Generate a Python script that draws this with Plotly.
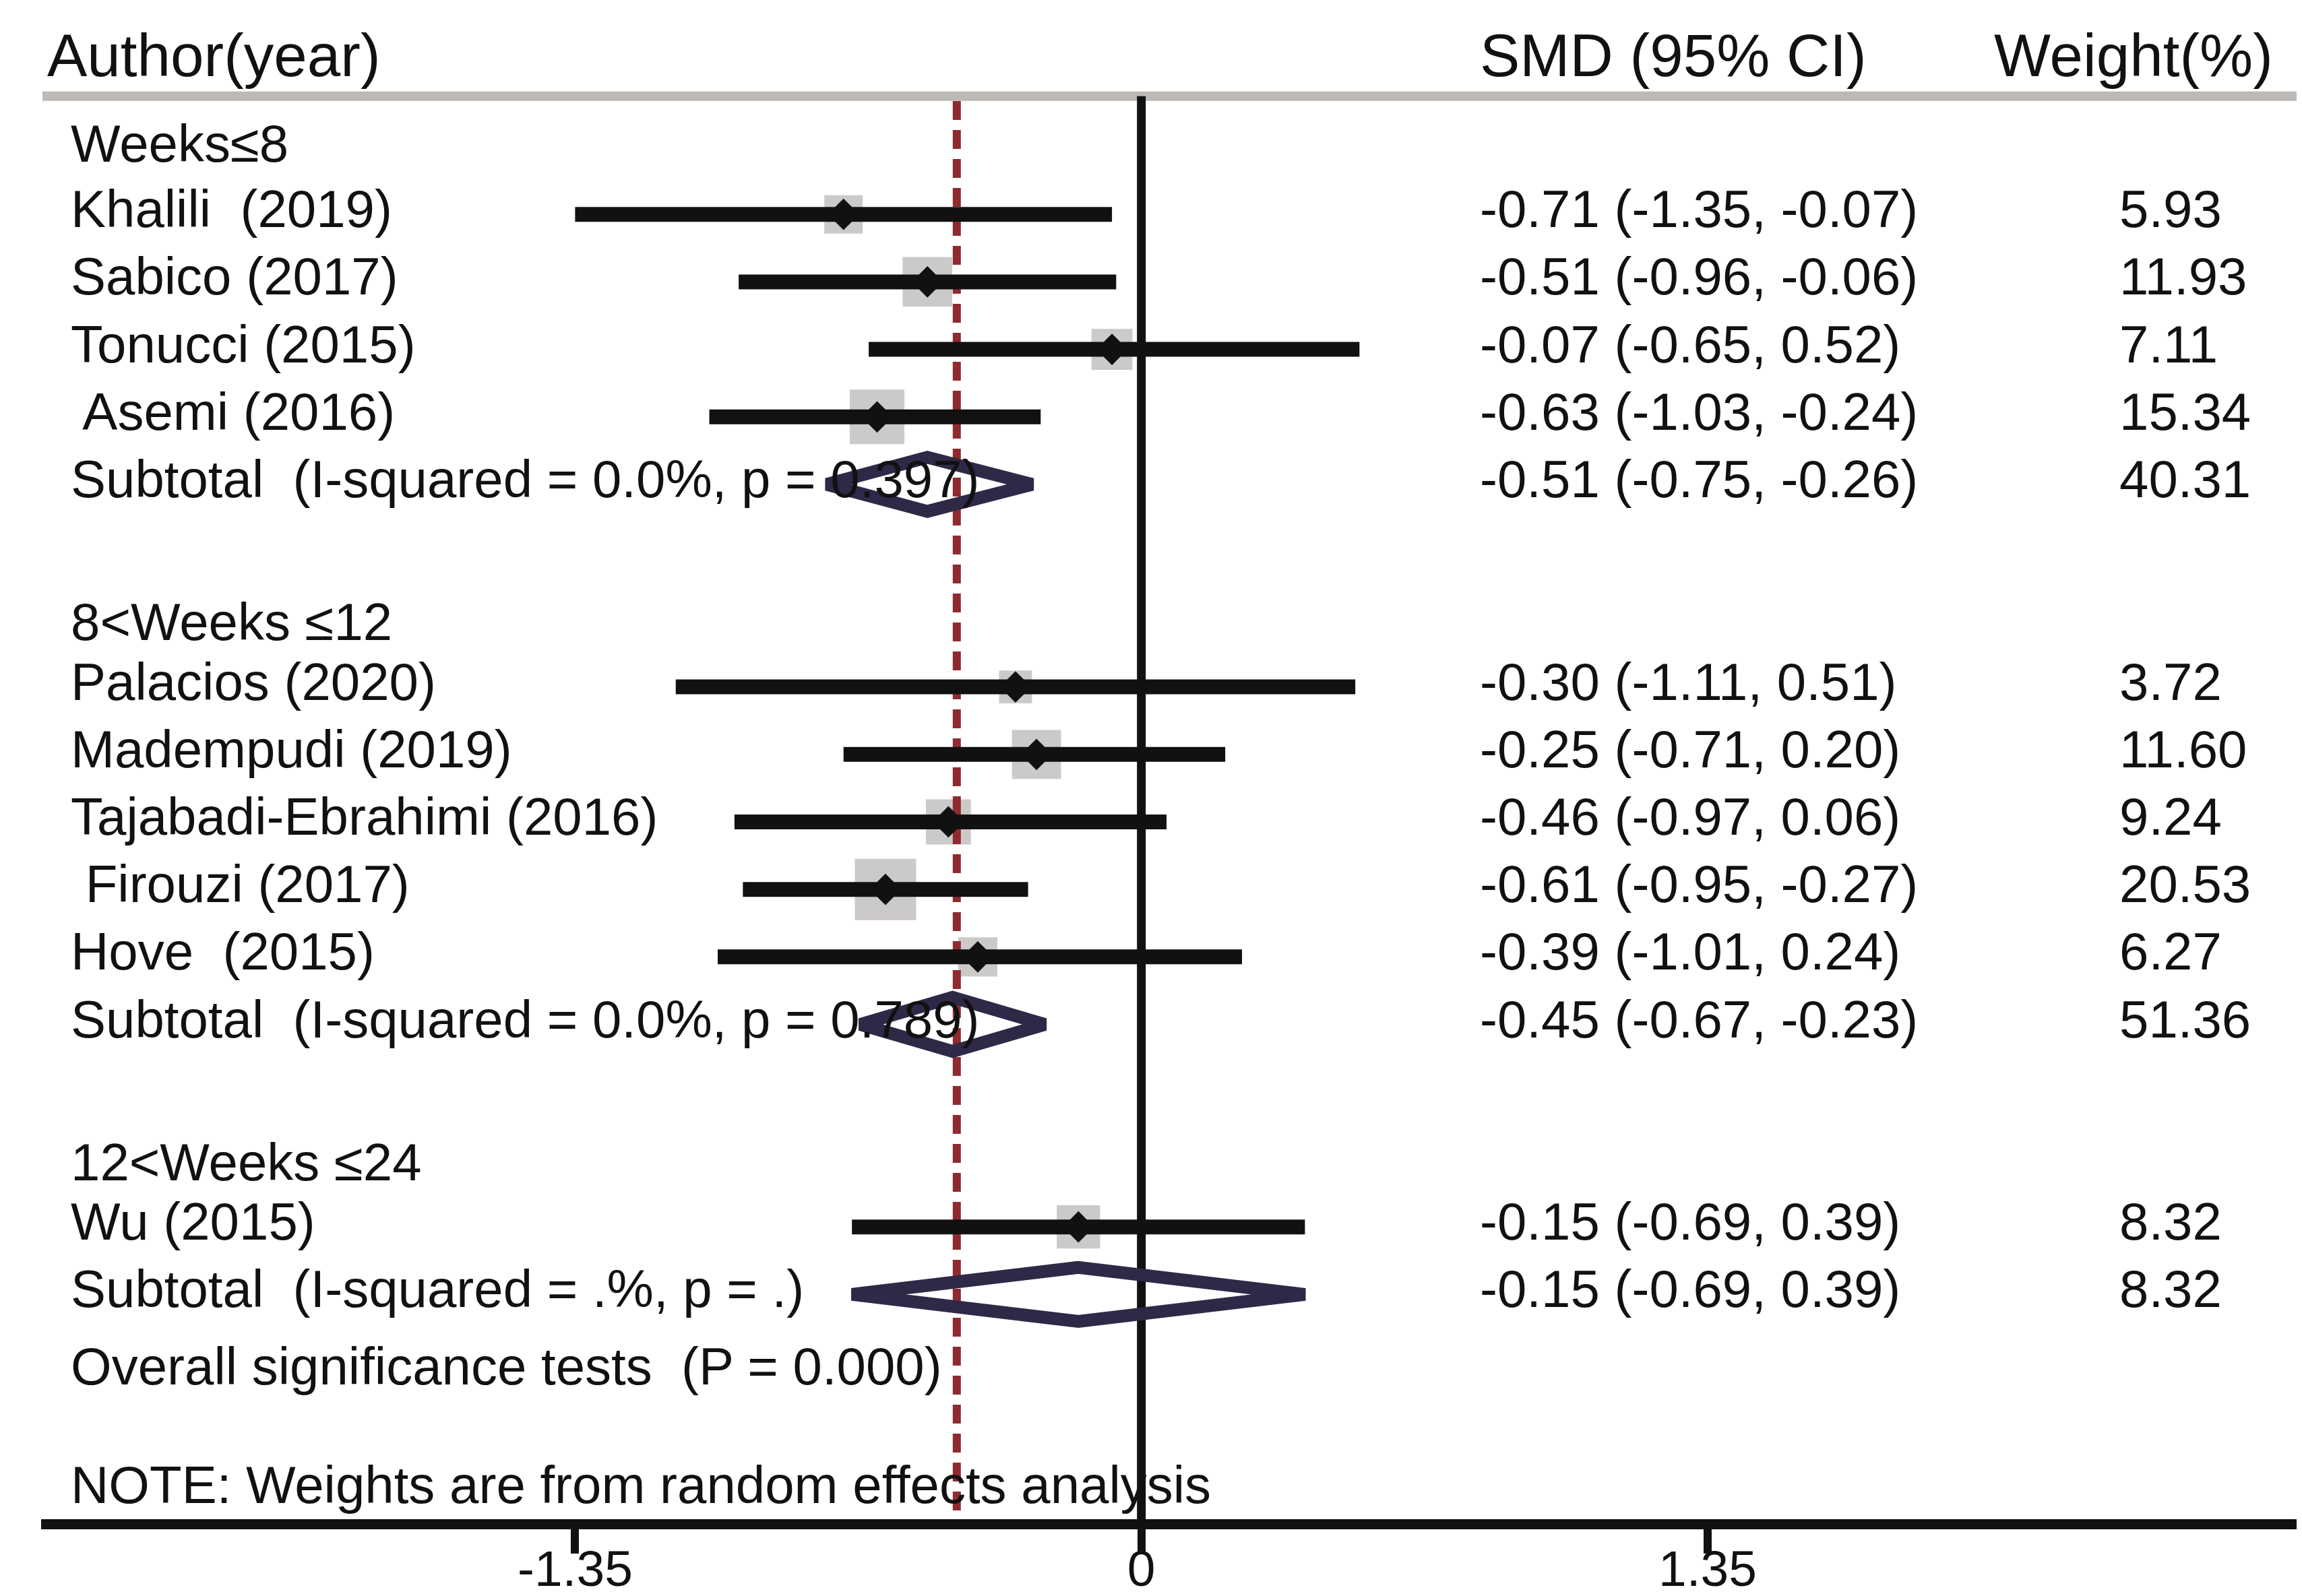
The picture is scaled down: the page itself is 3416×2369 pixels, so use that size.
import plotly.graph_objects as go
import math

# ---------------- data ----------------
group_labels = ["Weeks≤8", "8<Weeks ≤12", "12<Weeks ≤24"]

study_labels = ["Khalili  (2019)", "Sabico (2017)", "Tonucci (2015)", " Asemi (2016)",
                "Palacios (2020)", "Madempudi (2019)", "Tajabadi-Ebrahimi (2016)",
                " Firouzi (2017)", "Hove  (2015)", "Wu (2015)"]
study_group = [0, 0, 0, 0, 1, 1, 1, 1, 1, 2]
study_smd = [-0.71, -0.51, -0.07, -0.63, -0.30, -0.25, -0.46, -0.61, -0.39, -0.15]
study_lo = [-1.35, -0.96, -0.65, -1.03, -1.11, -0.71, -0.97, -0.95, -1.01, -0.69]
study_hi = [-0.07, -0.06, 0.52, -0.24, 0.51, 0.20, 0.06, -0.27, 0.24, 0.39]
study_weight = [5.93, 11.93, 7.11, 15.34, 3.72, 11.60, 9.24, 20.53, 6.27, 8.32]

subtotal_labels = ["Subtotal  (I-squared = 0.0%, p = 0.397)",
                   "Subtotal  (I-squared = 0.0%, p = 0.789)",
                   "Subtotal  (I-squared = .%, p = .)"]
subtotal_smd = [-0.51, -0.45, -0.15]
subtotal_lo = [-0.75, -0.67, -0.69]
subtotal_hi = [-0.26, -0.23, 0.39]
subtotal_weight = [40.31, 51.36, 8.32]

overall_text = "Overall significance tests  (P = 0.000)"
note_text = "NOTE: Weights are from random effects analysis"
overall_smd = -0.44
null_value = 0

x_tick_values = [-1.35, 0, 1.35]
x_tick_labels = ["-1.35", "0", "1.35"]

header_labels = ["Author(year)", "SMD (95% CI)", "Weight(%)"]

# ---------------- layout constants ----------------
PAGE_W, PAGE_H = 3416, 2369
BODY_MARGIN = 8                      # default browser body margin
W, H = PAGE_W - BODY_MARGIN, PAGE_H - BODY_MARGIN
PLOT_LEFT, PLOT_BOTTOM = 61, 2255    # in page pixels
FONT = "Liberation Sans, Arial, sans-serif"
ROW_FS = 78
HEAD_FS = 89
TXT = "#111111"

X_RANGE = [-2.623, 2.767]
Y_RANGE = [20.33, -2.096]          # reversed: row index increases downward
TOP_LINE_ROW = -0.75
HEADER_ROW = -1.36
TEXT_SHIFT = -0.08

# text columns (paper fractions of plot width)
COL_LABEL_X = 0.0126
COL_SMD_X = 0.6359
COL_W_X = 0.9187
HEAD_X = [0.0022, 0.6359, 0.8633]

fmt = lambda v: f"{v:.2f}"

def ci_text(m, lo, hi):
    return f"{fmt(m)} ({fmt(lo)}, {fmt(hi)})"

# ---------------- row layout ----------------
r = 0
study_rows = [None] * len(study_labels)
subtotal_rows = [None] * len(subtotal_labels)
group_rows = []
for g, gl in enumerate(group_labels):
    group_rows.append(r + (0.12 if g > 0 else 0.03))
    r += 1
    for i, sg in enumerate(study_group):
        if sg == g:
            study_rows[i] = r
            r += 1
    subtotal_rows[g] = r
    r += 1
    if g < len(group_labels) - 1:
        r += 1
overall_row = r + 0.06
note_row = overall_row + 1.76

fig = go.Figure()

# gray weight boxes
fig.add_trace(go.Scatter(
    x=study_smd, y=study_rows, mode="markers",
    marker=dict(symbol="square", color="#b7b3b2",
                size=[17.6 + 16.2 * math.sqrt(w) for w in study_weight],
                line=dict(width=0)),
    hoverinfo="skip", showlegend=False))

# overall effect dashed line
fig.add_trace(go.Scatter(
    x=[overall_smd, overall_smd], y=[TOP_LINE_ROW + 0.07, Y_RANGE[0]], mode="lines",
    line=dict(color="#8d2b2f", width=12, dash="28px,15px"),
    hoverinfo="skip", showlegend=False))

# null line
fig.add_trace(go.Scatter(
    x=[null_value, null_value], y=[TOP_LINE_ROW, Y_RANGE[0]], mode="lines",
    line=dict(color=TXT, width=13),
    hoverinfo="skip", showlegend=False))

# CI bars
cx, cy = [], []
for lo, hi, rr in zip(study_lo, study_hi, study_rows):
    cx += [lo, hi, None]
    cy += [rr, rr, None]
fig.add_trace(go.Scatter(
    x=cx, y=cy, mode="lines", line=dict(color=TXT, width=22),
    hoverinfo="skip", showlegend=False))

# point estimates
fig.add_trace(go.Scatter(
    x=study_smd, y=study_rows, mode="markers",
    marker=dict(symbol="diamond", color=TXT, size=36, line=dict(width=0)),
    hoverinfo="skip", showlegend=False))

# subtotal diamonds
DH = 0.40
dx, dy = [], []
for m, lo, hi, rr in zip(subtotal_smd, subtotal_lo, subtotal_hi, subtotal_rows):
    dx += [lo, m, hi, m, lo, m, None]
    dy += [rr, rr - DH, rr, rr + DH, rr, rr - DH, None]
fig.add_trace(go.Scatter(
    x=dx, y=dy, mode="lines", line=dict(color="#2f2847", width=19),
    hoverinfo="skip", showlegend=False))

# ---------------- text ----------------
ann = []

def add_text(x, y, text, size=ROW_FS):
    ann.append(dict(x=x, y=y, xref="paper", yref="y", text=text, showarrow=False,
                    xanchor="left", yanchor="middle",
                    font=dict(family=FONT, size=size, color=TXT)))

for hx, ht in zip(HEAD_X, header_labels):
    add_text(hx, HEADER_ROW, ht, HEAD_FS)

for g, gl in enumerate(group_labels):
    add_text(COL_LABEL_X, group_rows[g] + TEXT_SHIFT, gl)

for i, lab in enumerate(study_labels):
    rr = study_rows[i] + TEXT_SHIFT
    add_text(COL_LABEL_X, rr, lab)
    add_text(COL_SMD_X, rr, ci_text(study_smd[i], study_lo[i], study_hi[i]))
    add_text(COL_W_X, rr, fmt(study_weight[i]))

for g, lab in enumerate(subtotal_labels):
    rr = subtotal_rows[g] + TEXT_SHIFT
    add_text(COL_LABEL_X, rr, lab)
    add_text(COL_SMD_X, rr, ci_text(subtotal_smd[g], subtotal_lo[g], subtotal_hi[g]))
    add_text(COL_W_X, rr, fmt(subtotal_weight[g]))

add_text(COL_LABEL_X, overall_row, overall_text)
add_text(COL_LABEL_X, note_row, note_text)

shapes = [dict(type="line", xref="paper", yref="y", x0=0.0006, x1=1,
               y0=TOP_LINE_ROW, y1=TOP_LINE_ROW,
               line=dict(color="#bdb9b7", width=14), layer="below")]

fig.update_layout(
    width=W, height=H,
    margin=dict(l=PLOT_LEFT - BODY_MARGIN, r=0, t=0, b=PAGE_H - PLOT_BOTTOM,
                pad=0, autoexpand=False),
    paper_bgcolor="white", plot_bgcolor="white",
    annotations=ann, shapes=shapes,
    xaxis=dict(range=X_RANGE, showgrid=False, zeroline=False, automargin=False,
               showline=True, linecolor=TXT, linewidth=15,
               ticks="outside", ticklen=36, tickwidth=12, tickcolor=TXT,
               tickvals=x_tick_values, ticktext=x_tick_labels,
               ticklabelstandoff=-42,
               tickfont=dict(family=FONT, size=75, color=TXT)),
    yaxis=dict(range=Y_RANGE, visible=False, showgrid=False, zeroline=False,
               automargin=False),
    showlegend=False,
)

fig.write_html("out.html")
